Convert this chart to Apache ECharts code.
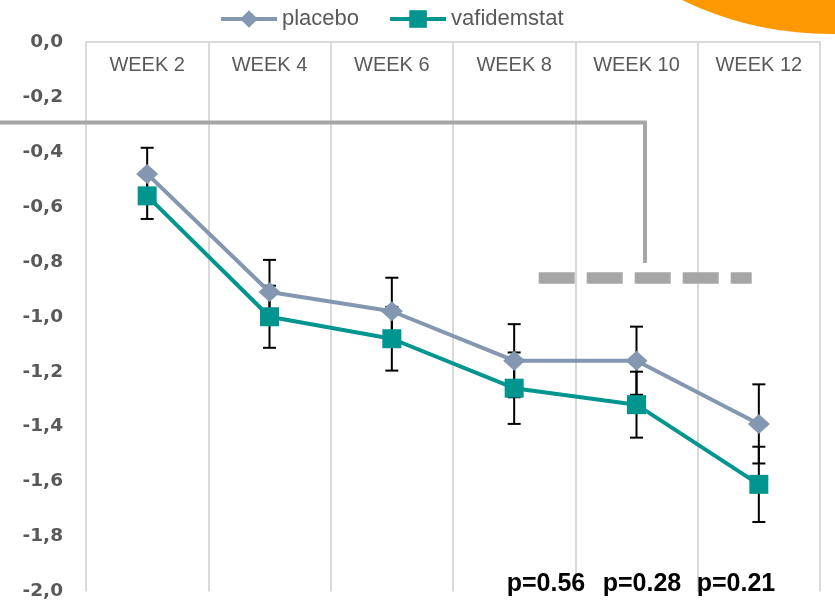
<!DOCTYPE html>
<html>
<head>
<meta charset="utf-8">
<script src="https://cdn.jsdelivr.net/npm/echarts@6/dist/echarts.min.js"></script>
<style>
  html, body { margin: 0; padding: 0; background: #fff; }
  #chart { width: 835px; height: 601px; }
</style>
</head>
<body>
<div id="chart"></div>
<script>
// data
var weeks = ['WEEK 2', 'WEEK 4', 'WEEK 6', 'WEEK 8', 'WEEK 10', 'WEEK 12'];
var placebo = [-0.48, -0.91, -0.98, -1.16, -1.16, -1.39];
var placeboErr = [0.095, 0.117, 0.122, 0.133, 0.124, 0.144];
var vafidemstat = [-0.56, -1.00, -1.08, -1.26, -1.32, -1.61];
var vafidemstatErr = [0.084, 0.113, 0.116, 0.130, 0.120, 0.137];
var pLabels = ['p=0.56', 'p=0.28', 'p=0.21'];

var dom = document.getElementById('chart');
var myChart = echarts.init(dom, null, { renderer: 'canvas' });

var grey = '#595959';

function errorBars(name, values, errs) {
  return {
    type: 'custom',
    name: name,
    silent: true,
    z: 1,
    encode: { x: 0, y: [1, 2] },
    data: values.map(function (v, i) { return [i, v + errs[i], v - errs[i]]; }),
    renderItem: function (params, api) {
      var hi = api.coord([api.value(0), api.value(1)]);
      var lo = api.coord([api.value(0), api.value(2)]);
      var w = 6.5;
      var st = { stroke: '#000', lineWidth: 2 };
      return {
        type: 'group',
        children: [
          { type: 'line', shape: { x1: hi[0], y1: hi[1], x2: lo[0], y2: lo[1] }, style: st },
          { type: 'line', shape: { x1: hi[0] - w, y1: hi[1], x2: hi[0] + w, y2: hi[1] }, style: st },
          { type: 'line', shape: { x1: lo[0] - w, y1: lo[1], x2: lo[0] + w, y2: lo[1] }, style: st }
        ]
      };
    }
  };
}

var pX = [546, 642, 736];

var option = {
  animation: false,
  backgroundColor: '#fff',
  textStyle: { fontFamily: 'Liberation Sans, Arial, sans-serif' },
  legend: {
    data: ['placebo', 'vafidemstat'],
    left: 214,
    top: 3,
    itemWidth: 56,
    itemHeight: 22,
    itemGap: 29,
    lineStyle: { width: 4 },
    textStyle: { fontSize: 22, color: grey, fontFamily: 'Liberation Sans' }
  },
  grid: { left: 86, right: 15, top: 42, bottom: 9 },
  xAxis: {
    type: 'category',
    position: 'top',
    data: weeks,
    boundaryGap: true,
    axisLine: { lineStyle: { color: '#D9D9D9', width: 2 } },
    axisTick: { show: false },
    axisLabel: { inside: true, margin: 13, fontSize: 20, color: grey, fontFamily: 'Liberation Sans' },
    splitLine: { show: true, lineStyle: { color: '#D9D9D9', width: 2 } }
  },
  yAxis: {
    type: 'value',
    min: -2,
    max: 0,
    interval: 0.2,
    axisLine: { show: false },
    axisTick: { show: false },
    splitLine: { show: false },
    axisLabel: {
      margin: 23,
      fontSize: 18.5,
      fontWeight: 'bold',
      color: grey,
      fontFamily: 'DejaVu Sans',
      formatter: function (v) {
        if (Math.abs(v) < 1e-9) return '0,0';
        return v.toFixed(1).replace('.', ',');
      }
    }
  },
  series: [
    errorBars('placebo SE', placebo, placeboErr),
    errorBars('vafidemstat SE', vafidemstat, vafidemstatErr),
    {
      name: 'placebo',
      type: 'line',
      z: 3,
      data: placebo,
      symbol: 'diamond',
      symbolSize: [22, 20],
      lineStyle: { color: '#8497B0', width: 4 },
      itemStyle: { color: '#8497B0' }
    },
    {
      name: 'vafidemstat',
      type: 'line',
      z: 4,
      data: vafidemstat,
      symbol: 'rect',
      symbolSize: 19,
      lineStyle: { color: '#00958F', width: 4 },
      itemStyle: { color: '#00958F' }
    }
  ],
  graphic: [
    { type: 'circle', z: 0, shape: { cx: 830, cy: -305, r: 339 }, style: { fill: '#FD9800' } },
    {
      type: 'polyline', z: 5,
      shape: { points: [[0, 122.5], [645, 122.5], [645, 263]] },
      style: { stroke: '#A6A6A6', lineWidth: 4, fill: null }
    },
    {
      type: 'line', z: 5,
      shape: { x1: 538.7, y1: 278, x2: 751.7, y2: 278 },
      style: { stroke: '#A6A6A6', lineWidth: 11.5, lineDash: [36, 12], lineCap: 'butt' }
    }
  ].concat(pLabels.map(function (t, i) {
    return {
      type: 'text', z: 6,
      x: pX[i], y: 584,
      style: {
        text: t, fill: '#000', font: 'bold 25px Liberation Sans',
        align: 'center', verticalAlign: 'middle'
      }
    };
  }))
};

myChart.setOption(option);
window.addEventListener('resize', myChart.resize);
</script>
</body>
</html>
